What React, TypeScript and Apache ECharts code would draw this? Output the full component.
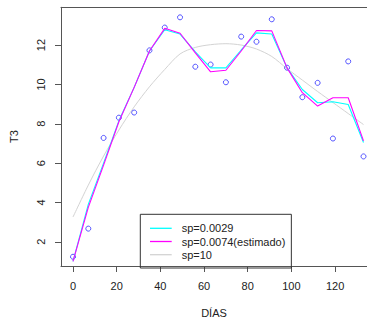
import React, { useEffect, useRef } from "react";
import * as echarts from "echarts";

// Sampling days (x) and observed T3 values
const days = [0, 7, 14, 21, 28, 35, 42, 49, 56, 63, 70, 77, 84, 91, 98, 105, 112, 119, 126, 133];
const t3Obs = [1.24, 2.67, 7.28, 8.31, 8.57, 11.73, 12.89, 13.41, 10.9, 11.01, 10.11, 12.43, 12.17, 13.31, 10.85, 9.35, 10.08, 7.25, 11.17, 6.34];

// Smoothing-spline fits evaluated at the sampling days
const fitSp0029 = [1.0, 3.9, 6.0, 8.15, 9.85, 11.7, 12.78, 12.56, 11.65, 10.84, 10.84, 11.75, 12.62, 12.56, 10.84, 9.74, 9.07, 9.12, 8.98, 7.05];
const fitSp0074 = [1.0, 3.75, 5.9, 8.1, 9.85, 11.7, 12.85, 12.6, 11.6, 10.64, 10.72, 11.7, 12.74, 12.72, 10.84, 9.58, 8.9, 9.32, 9.32, 7.13];
const fitSp10 = [3.26, 4.88, 6.36, 7.68, 8.86, 9.88, 10.76, 11.55, 11.88, 12.02, 12.07, 12.0, 11.8, 11.42, 10.8, 10.22, 9.64, 9.08, 8.52, 7.96];

const seriesNames = ["sp=0.0029", "sp=0.0074(estimado)", "sp=10"];
const xTicks = [0, 20, 40, 60, 80, 100, 120];
const yTicks = [2, 4, 6, 8, 10, 12];

const FONT = "'Liberation Sans', Arial, Helvetica, sans-serif";
const TEXT = "#222";
const FRAME = "#555";
// thin horizontal bar used as the legend key (plain line, no marker)
const LINE_ICON = "path://M0,0 H100 V6 H0 Z";

const pairs = (ys: number[]) => days.map((d, i) => [d, ys[i]]);

export default function App() {
  const ref = useRef<HTMLDivElement>(null);

  useEffect(() => {
    if (!ref.current) return;
    const chart = echarts.init(ref.current, undefined, { renderer: "svg" });

    chart.setOption({
      animation: false,
      backgroundColor: "#fff",
      textStyle: { fontFamily: FONT },
      grid: { left: 60.5, top: 7.3, right: 0, bottom: 55.3 },
      xAxis: [
        {
          type: "value",
          min: -5.5,
          max: 134.6,
          name: "DÍAS",
          nameLocation: "middle",
          nameGap: 41,
          nameTextStyle: { color: TEXT, fontSize: 11, fontFamily: FONT },
          splitLine: { show: false },
          axisLine: { show: true, onZero: false, lineStyle: { color: FRAME, width: 1 } },
          axisTick: { show: true, length: 6, customValues: xTicks, lineStyle: { color: FRAME } },
          axisLabel: { customValues: xTicks, color: TEXT, fontSize: 11, margin: 14, fontFamily: FONT },
        },
        {
          type: "value",
          position: "top",
          min: -5.5,
          max: 134.6,
          splitLine: { show: false },
          axisLine: { show: true, onZero: false, lineStyle: { color: FRAME, width: 1 } },
          axisTick: { show: false },
          axisLabel: { show: false },
        },
      ],
      yAxis: {
        type: "value",
        min: 0.77,
        max: 13.92,
        name: "T3",
        nameLocation: "middle",
        nameRotate: 90,
        nameGap: 42,
        nameTextStyle: { color: TEXT, fontSize: 11, fontFamily: FONT },
        splitLine: { show: false },
        axisLine: { show: true, onZero: false, lineStyle: { color: FRAME, width: 1 } },
        axisTick: { show: true, length: 6, customValues: yTicks, lineStyle: { color: FRAME } },
        axisLabel: { customValues: yTicks, rotate: 90, color: TEXT, fontSize: 11, margin: 15, fontFamily: FONT },
      },
      legend: {
        left: 140.3,
        top: 214.3,
        orient: "vertical",
        data: seriesNames.map((name) => ({ name, icon: LINE_ICON })),
        borderColor: "#333",
        borderWidth: 1,
        padding: [8.5, 6, 7.8, 9.7],
        itemGap: 2.2,
        itemWidth: 21.7,
        itemHeight: 11,
        textStyle: { color: TEXT, fontSize: 11, fontFamily: FONT, padding: [0, 0, 0, 5] },
        selectedMode: false,
      },
      series: [
        {
          type: "scatter",
          name: "obs",
          data: pairs(t3Obs),
          symbol: "circle",
          symbolSize: 5,
          itemStyle: { color: "transparent", borderColor: "#2a2aff", borderWidth: 1 },
          z: 2,
        },
        {
          type: "line",
          name: seriesNames[0],
          data: pairs(fitSp0029),
          symbol: "none",
          lineStyle: { color: "#00ffff", width: 1.1 },
          itemStyle: { color: "#00ffff" },
          z: 3,
        },
        {
          type: "line",
          name: seriesNames[1],
          data: pairs(fitSp0074),
          symbol: "none",
          lineStyle: { color: "#ff00ff", width: 1.1 },
          itemStyle: { color: "#ff00ff" },
          z: 4,
        },
        {
          type: "line",
          name: seriesNames[2],
          data: pairs(fitSp10),
          symbol: "none",
          smooth: 0.3,
          lineStyle: { color: "#d3d3d3", width: 1 },
          itemStyle: { color: "#d3d3d3" },
          z: 1,
        },
      ],
    });

    return () => chart.dispose();
  }, []);

  return (
    <div
      ref={ref}
      style={{ position: "fixed", left: 0, top: 0, width: 367, height: 323, background: "#fff" }}
    />
  );
}
